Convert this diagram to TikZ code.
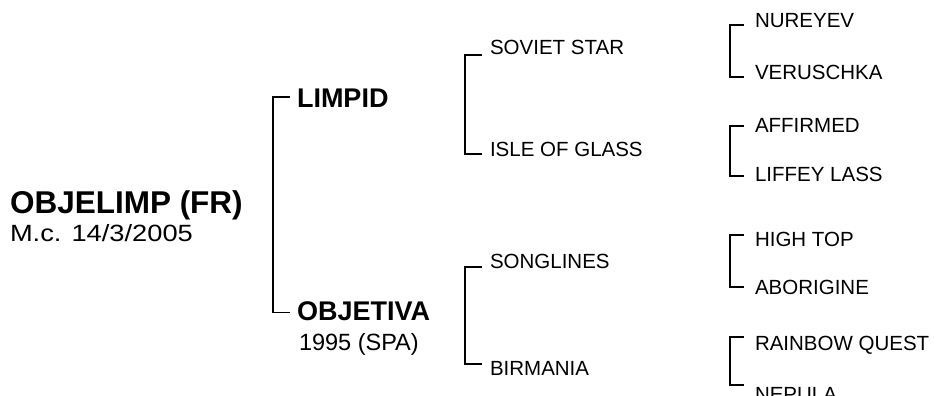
\documentclass[tikz,border=0pt]{standalone}
\usepackage{graphicx}
\usepackage{fontspec}
\setmainfont{Liberation Sans}
\begin{document}
\begin{tikzpicture}[x=1pt,y=-1pt,
  lbl/.style={anchor=base west,inner sep=0pt,outer sep=0pt},
  gthree/.style={lbl,font=\fontsize{20.5}{20.5}\selectfont},
  gtwo/.style={lbl,font=\fontsize{20.5}{20.5}\selectfont},
  gone/.style={lbl,font=\fontsize{27}{27}\selectfont\bfseries},
  sub/.style={lbl,font=\fontsize{23.5}{23.5}\selectfont},
  title/.style={lbl,font=\fontsize{31.5}{31.5}\selectfont\bfseries},
  brk/.style={line width=1.8pt,line join=miter,line cap=butt}]
\useasboundingbox (0,0) rectangle (934,396);
% root
\node[title] (root) at (10,213) {OBJELIMP (FR)};
\node[sub] (rootsub) at (10,241.5) {\scalebox{1.16}[1]{M.c. 14/3/2005}};
% generation 1
\node[gone] (limpid) at (297,107) {LIMPID};
\node[gone] (objetiva) at (297,320.5) {OBJETIVA};
\node[sub] (objsub) at (299,350) {1995 (SPA)};
\coordinate (g1a) at (290,97);
\coordinate (g1b) at (290,312.5);
\draw[brk] (g1a) -- (273,97) -- (273,312.5) -- (g1b);
% generation 2
\node[gtwo] (soviet) at (490,55) {SOVIET STAR};
\node[gtwo] (isle) at (490,156) {ISLE OF GLASS};
\node[gtwo] (song) at (490,268) {SONGLINES};
\node[gtwo] (birm) at (490,375) {BIRMANIA};
\coordinate (g2a) at (482,55);
\coordinate (g2b) at (482,154);
\coordinate (g2c) at (482,267);
\coordinate (g2d) at (482,364);
\draw[brk] (g2a) -- (465,55) -- (465,154) -- (g2b);
\draw[brk] (g2c) -- (465,267) -- (465,364) -- (g2d);
% generation 3
\node[gthree] (nur) at (755,28) {NUREYEV};
\node[gthree] (ver) at (755,80) {VERUSCHKA};
\node[gthree] (aff) at (755,132) {AFFIRMED};
\node[gthree] (lif) at (755,181) {LIFFEY LASS};
\node[gthree] (hig) at (755,246) {HIGH TOP};
\node[gthree] (abo) at (755,294) {ABORIGINE};
\node[gthree] (rai) at (755,350) {RAINBOW QUEST};
\node[gthree] (nep) at (755,401) {NEPULA};
\coordinate (g3a) at (744,25);
\coordinate (g3b) at (744,77);
\coordinate (g3c) at (744,126);
\coordinate (g3d) at (744,176);
\coordinate (g3e) at (744,235);
\coordinate (g3f) at (744,287);
\coordinate (g3g) at (744,337);
\coordinate (g3h) at (744,385);
\draw[brk] (g3a) -- (730,25) -- (730,77) -- (g3b);
\draw[brk] (g3c) -- (730,126) -- (730,176) -- (g3d);
\draw[brk] (g3e) -- (730,235) -- (730,287) -- (g3f);
\draw[brk] (g3g) -- (730,337) -- (730,385) -- (g3h);
\end{tikzpicture}
\end{document}
